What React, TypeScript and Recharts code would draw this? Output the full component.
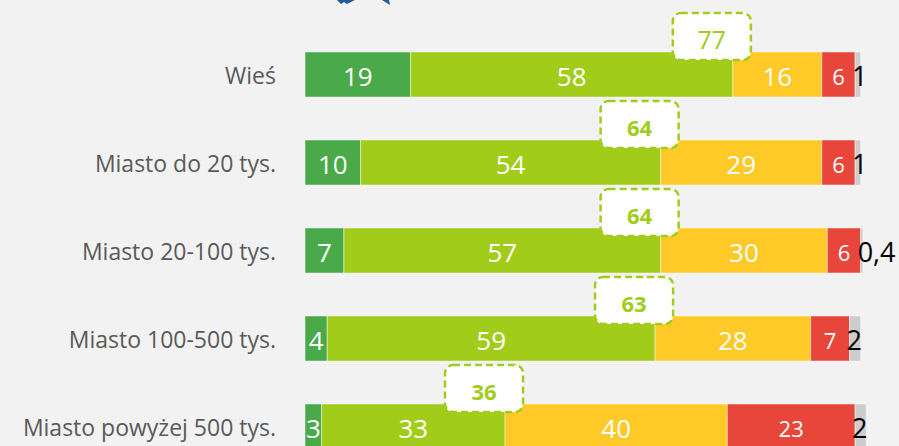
import React from 'react';
import { Bar, BarChart, LabelList, XAxis, YAxis } from 'recharts';

const categories = ['Wieś', 'Miasto do 20 tys.', 'Miasto 20-100 tys.', 'Miasto 100-500 tys.', 'Miasto powyżej 500 tys.'];
const bardzoDobrze = [19, 10, 7, 4, 3];
const raczejDobrze = [58, 54, 57, 59, 33];
const raczejZle = [16, 29, 30, 28, 40];
const bardzoZle = [6, 6, 6, 7, 23];
const trudnoPowiedziec = [1, 1, 0.4, 2, 2];
const razemDobrze = [77, 64, 64, 63, 36];

const data = categories.map((name, i) => ({
  name,
  g: bardzoDobrze[i],
  l: raczejDobrze[i],
  y: raczejZle[i],
  r: bardzoZle[i],
  x: trudnoPowiedziec[i],
  tot: razemDobrze[i],
}));

const FONT = '"Open Sans", "Noto Sans", sans-serif';
const LIME = '#a2cc1a';

const fmt = (v: number) => String(v).replace('.', ',');

const inside = (size: number) => (p: any) => {
  const { x, y, width, height, value } = p;
  return (
    <text x={x + width / 2} y={y + height / 2 + 1} textAnchor="middle" dominantBaseline="central"
      fill="#fff" fontSize={size} fontFamily={FONT}>
      {fmt(value)}
    </text>
  );
};

const outside = (p: any) => {
  const { x, y, height, value } = p;
  return (
    <text x={x - 3} y={y + height / 2 + 1} textAnchor="start" dominantBaseline="central"
      fill="#000" fontSize={27} fontFamily={FONT}>
      {fmt(value)}
    </text>
  );
};

// callout sits at the end of the lime part, i.e. at the start of the yellow part
const callout = (p: any) => {
  const { x, y, index } = p;
  const cx = x - 21;
  const w = 78;
  const h = 47;
  const top = y - 39;
  return (
    <g>
      <rect x={cx - w / 2} y={top} width={w} height={h} rx={8} ry={8} fill="#fff"
        stroke={LIME} strokeWidth={2.5} strokeDasharray="7 4" />
      <text x={cx} y={top + h / 2 + 2} textAnchor="middle" dominantBaseline="central"
        fill={LIME} fontSize={index === 0 ? 25 : 22} fontWeight={index === 0 ? 400 : 700} fontFamily={FONT}>
        {razemDobrze[index]}
      </text>
    </g>
  );
};

const catTick = (p: any) => (
  <text x={276} y={p.y + 1} textAnchor="end" dominantBaseline="central" fill="#595959"
    fontSize={23} fontFamily={FONT}>
    {p.payload.value}
  </text>
);

const segStroke = 'rgba(255,255,255,0.45)';

export default function App() {
  return (
    <div style={{ width: 899, height: 446, overflow: 'hidden', position: 'relative', background: '#f2f2f2' }}>
      <style>{'body{margin:0}'}</style>
      <svg width={120} height={10} style={{ position: 'absolute', left: 320, top: 0 }}>
        <polygon points="17,0 35,0 27,4 24,2 21,4" fill="#1f5c99" />
        <polygon points="62,0 69,0 70,5" fill="#1f5c99" />
      </svg>
      <BarChart width={899} height={480} data={data} layout="vertical" barSize={45}
        margin={{ top: 30, right: 5, bottom: 10, left: 0 }}>
        <XAxis type="number" domain={[0, 106]} hide />
        <YAxis type="category" dataKey="name" width={305} axisLine={false} tickLine={false} tick={catTick} />
        <Bar dataKey="g" stackId="a" fill="#4aaa4a" stroke={segStroke} isAnimationActive={false}>
          <LabelList dataKey="g" content={inside(26)} />
        </Bar>
        <Bar dataKey="l" stackId="a" fill={LIME} stroke={segStroke} isAnimationActive={false}>
          <LabelList dataKey="l" content={inside(26)} />
        </Bar>
        <Bar dataKey="y" stackId="a" fill="#ffca28" stroke={segStroke} isAnimationActive={false}>
          <LabelList dataKey="y" content={inside(26)} />
          <LabelList dataKey="tot" content={callout} />
        </Bar>
        <Bar dataKey="r" stackId="a" fill="#e8463a" stroke={segStroke} isAnimationActive={false}>
          <LabelList dataKey="r" content={inside(22)} />
        </Bar>
        <Bar dataKey="x" stackId="a" fill="#cccccc" stroke={segStroke} isAnimationActive={false}>
          <LabelList dataKey="x" content={outside} />
        </Bar>
      </BarChart>
    </div>
  );
}
